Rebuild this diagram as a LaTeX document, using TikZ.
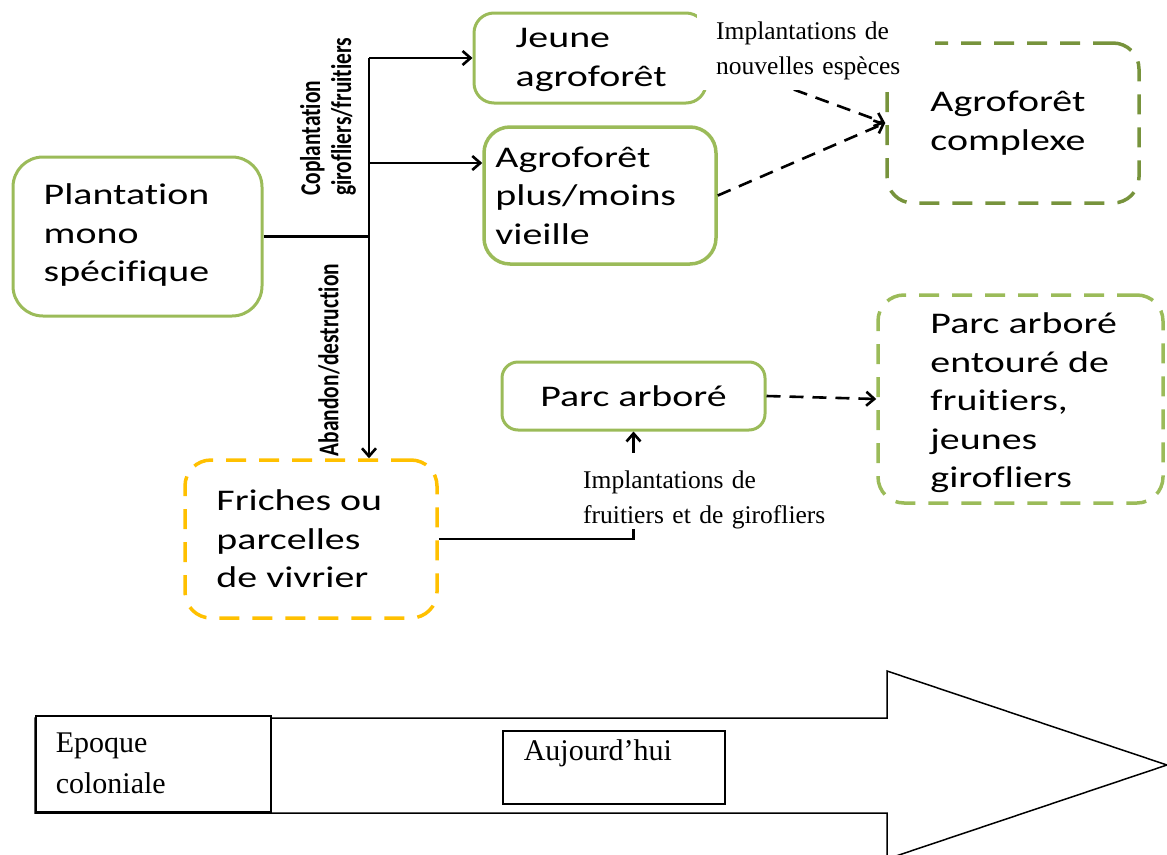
\documentclass[tikz,border=0pt]{standalone}
\usepackage{fontspec}
\usetikzlibrary{arrows.meta}
\setmainfont{Liberation Serif}
\newfontfamily\boxfont[FakeStretch=1.33,Ligatures=NoCommon]{Carlito}
\newfontfamily\tagfont[FakeStretch=0.75,Ligatures=NoCommon]{Carlito}
\definecolor{leafgreen}{HTML}{9BBB59}
\definecolor{mossgreen}{HTML}{77933C}
\definecolor{fallow}{HTML}{FFC000}
\tikzset{
  >={Straight Barb[length=8pt,width=14pt]},
  stage/.style={draw=leafgreen,line width=3pt,rounded corners=26pt,inner sep=0pt},
  later/.style={stage,dash pattern=on 20pt off 13pt,line width=3.5pt},
  stagetext/.style={font=\boxfont\fontsize{30}{38.5}\selectfont,align=left,inner sep=0pt,anchor=west},
  tag/.style={font=\tagfont\bfseries\fontsize{28.6}{31}\selectfont,align=left,inner sep=0pt,rotate=90},
  note/.style={font=\fontsize{25.5}{35}\selectfont,align=left,fill=white,inner ysep=0pt},
  link/.style={line width=2.6pt},
  dlink/.style={line width=2.6pt,dash pattern=on 14pt off 9pt},
  period/.style={draw,fill=white,line width=1.5pt,font=\fontsize{30}{41}\selectfont,align=left}
}
\begin{document}
\begin{tikzpicture}[x=1pt,y=-1pt]
  \useasboundingbox (0,0) rectangle (1167,854);
  \draw[line width=1.5pt] (35,718) -- (887,718) -- (887,671) -- (1167,765)
    -- (887,859) -- (887,813) -- (35,813) -- cycle;
  \node[period,anchor=north west,minimum width=235pt,minimum height=96pt,
    text width=195pt,inner xsep=20pt] (colonial) at (35,715) {Epoque\\coloniale};
  \node[period,anchor=north west,text width=180pt,inner xsep=21pt,inner ysep=9.5pt,
    text height=20.5pt,text depth=33.5pt] (today) at (502,730) {Aujourd’hui};

  \node[stage,minimum width=249pt,minimum height=159pt,rounded corners=30pt] (plant) at (137.5,236.5) {};
  \node[stagetext] at ([xshift=32pt,yshift=1.5pt]plant.west) {Plantation\\mono\\spécifique};
  \node[stage,minimum width=232pt,minimum height=90pt,rounded corners=20pt] (jeune) at (590,58) {};
  \node[stagetext] at ([xshift=43pt,yshift=-2pt]jeune.west) {Jeune\\agroforêt};
  \node[stage,minimum width=232pt,minimum height=137pt,line width=3.5pt] (vieille) at (600,195.5) {};
  \node[stagetext] at ([xshift=13pt]vieille.west) {Agroforêt\\plus/moins\\vieille};
  \node[later,draw=mossgreen,minimum width=252pt,minimum height=160pt] (complexe) at (1013,123) {};
  \node[stagetext] at ([xshift=45pt]complexe.west) {Agroforêt\\complexe};
  \node[stage,minimum width=263pt,minimum height=68pt,rounded corners=16pt,
    font=\boxfont\fontsize{30}{38.5}\selectfont] (parc) at (633.5,396) {Parc arboré};
  \node[later,minimum width=285pt,minimum height=208pt] (entoure) at (1020.5,399) {};
  \node[stagetext] at ([xshift=54pt,yshift=-4pt]entoure.west) {Parc arboré\\entouré de\\fruitiers,\\jeunes\\girofliers};
  \node[later,draw=fallow,minimum width=252pt,minimum height=158pt] (friches) at (311,539) {};
  \node[stagetext] at ([xshift=33pt]friches.west) {Friches ou\\parcelles\\de vivrier};

  \coordinate (trunk) at (369,58);
  \coordinate (fork) at (369,163);
  \draw[link] (plant.east) -- (plant.east -| trunk);
  \draw[link,->] (trunk) -- (trunk |- friches.north);
  \draw[link,->] (trunk) -- (jeune.west);
  \draw[link,->] (fork) -- (fork -| vieille.west);
  \draw[link,->] (friches.east) -| (parc.south);
  \draw[dlink,->] (jeune.east) -- (complexe.west);
  \draw[dlink,->] (vieille.east) -- (complexe.west);
  \draw[dlink,->] (parc.east) -- (entoure.west);

  \node[tag,anchor=west] (coplant) at (328,196) {Coplantation\\girofliers/fruitiers};
  \node[tag] (abandon) at (329,360) {Abandon/destruction};
  \node[note,anchor=south west,text width=200pt,inner xsep=19pt,minimum height=78pt]
    (newspecies) at (697,90) {Implantations de\\nouvelles espèces};
  \node[note,anchor=north west,text width=262pt,inner xsep=8pt,text height=35pt]
    (newtrees) at (575,453) {Implantations de\\fruitiers et de girofliers};
\end{tikzpicture}
\end{document}
